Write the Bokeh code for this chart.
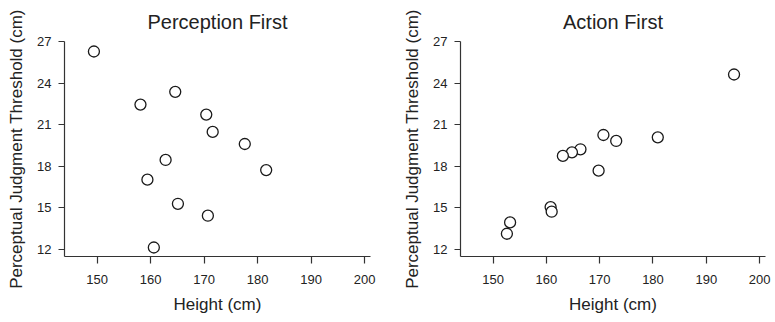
from bokeh.plotting import figure
from bokeh.layouts import row
from bokeh.models import FixedTicker, Range1d
from bokeh.embed import file_html
from bokeh.resources import INLINE

# Perception First
pf_height = [149.4, 158.1, 164.6, 170.4, 171.6, 177.6, 162.8, 181.6, 159.4, 165.1, 170.7, 160.6]
pf_threshold = [26.28, 22.45, 23.37, 21.73, 20.48, 19.61, 18.46, 17.73, 17.04, 15.30, 14.44, 12.15]

# Action First
af_height = [195.2, 170.7, 180.9, 173.1, 166.4, 164.8, 163.1, 169.8, 160.8, 161.0, 153.2, 152.6]
af_threshold = [24.62, 20.26, 20.09, 19.83, 19.23, 19.01, 18.75, 17.69, 15.06, 14.73, 13.96, 13.14]

titles = ["Perception First", "Action First"]
x_ticks = [150, 160, 170, 180, 190, 200]
y_ticks = [12, 15, 18, 21, 24, 27]
x_label = "Height (cm)"
y_label = "Perceptual Judgment Threshold (cm)"

FONT = "Liberation Sans"
TXT = "#222222"
AX = "#333333"


def make(title, xs, ys, frame_w, border_right):
    p = figure(frame_width=frame_w, frame_height=215,
               min_border_left=64, min_border_right=border_right,
               min_border_top=41, min_border_bottom=66,
               x_range=Range1d(143.9, 201.1), y_range=Range1d(11.5, 27),
               output_backend="svg", toolbar_location=None,
               title=title)
    p.title.text_font = FONT
    p.title.text_font_size = "20px"
    p.title.text_font_style = "normal"
    p.title.text_color = TXT
    p.title.align = "center"
    p.title.standoff = 17
    p.outline_line_color = None
    p.xgrid.grid_line_color = None
    p.ygrid.grid_line_color = None
    for ax, ticks in ((p.xaxis, x_ticks), (p.yaxis, y_ticks)):
        ax.ticker = FixedTicker(ticks=ticks)
        ax.minor_tick_line_color = None
        ax.major_tick_in = 0
        ax.axis_line_color = AX
        ax.axis_line_width = 1.2
        ax.major_tick_line_color = AX
        ax.major_tick_line_width = 1.2
        ax.major_label_text_font = FONT
        ax.major_label_text_font_size = "13px"
        ax.major_label_text_color = TXT
        ax.axis_label_text_font = FONT
        ax.axis_label_text_font_size = "17px"
        ax.axis_label_text_font_style = "normal"
        ax.axis_label_text_color = TXT
    p.xaxis.major_tick_out = 7
    p.yaxis.major_tick_out = 6
    p.xaxis.major_label_standoff = 11
    p.yaxis.major_label_standoff = 7
    p.xaxis.axis_label = x_label
    p.yaxis.axis_label = y_label
    p.xaxis.axis_label_standoff = 8
    p.yaxis.axis_label_standoff = 8
    p.scatter(xs, ys, marker="circle", size=11, fill_color="white",
              line_color="#1a1a1a", line_width=1.3)
    return p


p1 = make(titles[0], pf_height, pf_threshold, 306, 26)
p2 = make(titles[1], af_height, af_threshold, 305, 10)
layout = row(p1, p2)

open("out.html", "w").write(file_html(layout, INLINE))
